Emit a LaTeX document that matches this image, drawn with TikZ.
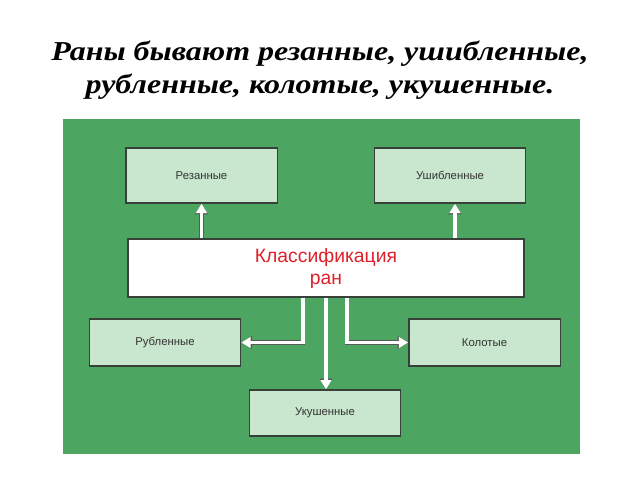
\documentclass[tikz,border=0pt]{standalone}
\usepackage{fontspec}
\setmainfont{Liberation Serif}
\newfontfamily\boxfont{Liberation Sans}
\usetikzlibrary{arrows.meta,calc}
\definecolor{panelgreen}{RGB}{76,166,97}
\definecolor{boxfill}{RGB}{201,230,206}
\definecolor{boxline}{RGB}{55,65,58}
\definecolor{redtext}{RGB}{222,32,42}
\begin{document}
\begin{tikzpicture}[x=0.75pt,y=-0.75pt,
  catbox/.style={draw=boxline,fill=boxfill,line width=1pt,minimum width=113.5pt,inner sep=0pt,
    font=\boxfont\fontsize{8.5}{10}\selectfont,text=black!80},
  mainbox/.style={draw=boxline,fill=white,line width=1pt,minimum width=297pt,minimum height=43.5pt,inner sep=0pt,
    align=center,font=\boxfont\fontsize{14.5}{16.5}\selectfont,text=redtext},
  arr/.style={draw=white,line width=2.4pt,-{Triangle[length=7pt,width=8pt]},
    preaction={draw=black!65,line width=3.3pt,-{Triangle[length=8pt,width=9.3pt]}}},
  titletext/.style={font=\fontsize{20.5}{24}\selectfont\bfseries\itshape,anchor=base,inner sep=0pt}]
\useasboundingbox (0,0) rectangle (640,480);
\fill[white] (0,0) rectangle (640,480);
\node[titletext] (t1) at (320,60) {\scalebox{1.17}[1]{Раны бывают резанные, ушибленные,}};
\node[titletext] (t2) at (320,93) {\scalebox{1.17}[1]{рубленные, колотые, укушенные.}};
\fill[panelgreen] (63,119) rectangle (580,454);
\node[catbox,minimum height=41.25pt] (res) at (201.5,175.5) {Резанные};
\node[catbox,minimum height=41.25pt] (ush) at (450,175.5) {Ушибленные};
\node[mainbox] (cen) at (326,268) {Классификация\\ран};
\node[catbox,minimum height=35.25pt] (rub) at (165,342.5) {Рубленные};
\node[catbox,minimum height=35.25pt] (kol) at (484.5,342.5) {Колотые};
\node[catbox,minimum height=34.5pt] (uku) at (325,413) {Укушенные};
\draw[arr] (cen.north -| res.south) -- (res.south);
\draw[arr] ($(cen.north -| ush.south)+(5,0)$) -- ($(ush.south)+(5,0)$);
\draw[arr] ($(cen.south)+(-23,0)$) |- (rub.east);
\draw[arr] (cen.south) -- (cen.south |- uku.north);
\draw[arr] ($(cen.south)+(21,0)$) |- (kol.west);
\end{tikzpicture}
\end{document}
